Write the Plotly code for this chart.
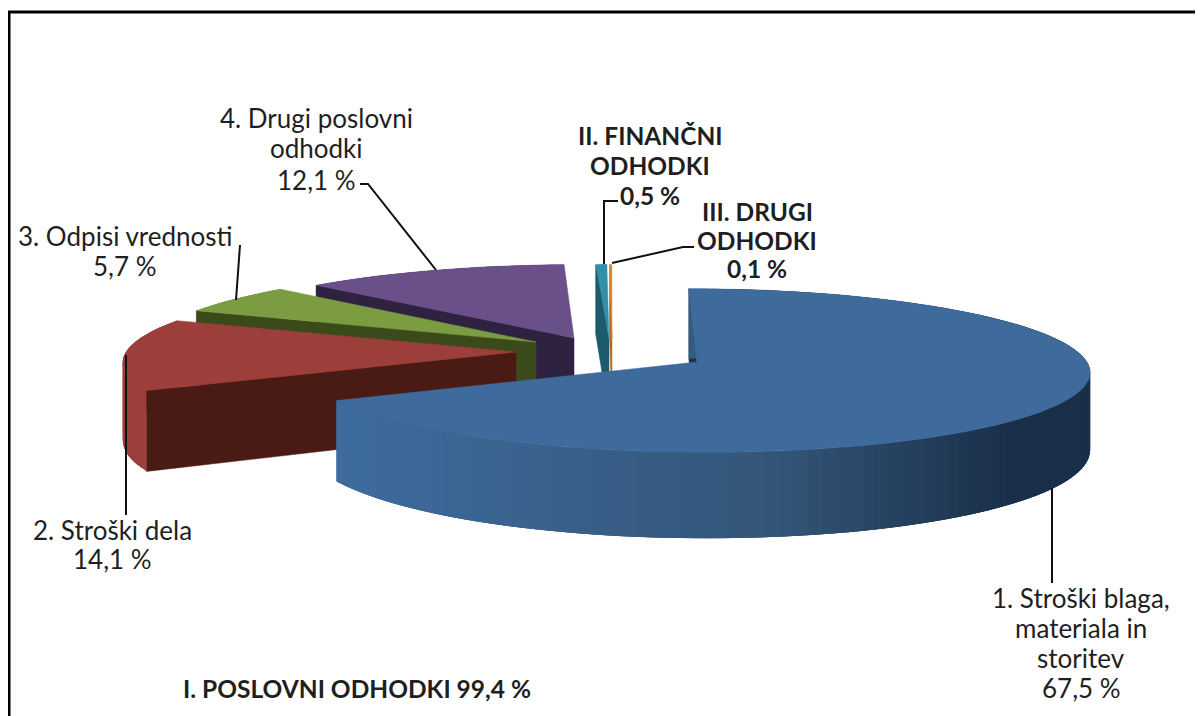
import math
import plotly.graph_objects as go

# ---- data
categories = ["1. Stroški blaga,<br>materiala in<br>storitev", "2. Stroški dela", "3. Odpisi vrednosti",
              "4. Drugi poslovni<br>odhodki", "II. FINANČNI<br>ODHODKI", "III. DRUGI<br>ODHODKI"]
shares = [67.5, 14.1, 5.7, 12.1, 0.5, 0.1]
group_label = "I. POSLOVNI ODHODKI"
group_share = 99.4

# ---- style
top_colors = ["#3E6A9C", "#9C3E3A", "#7C9C42", "#6A5088", "#338FA8", "#E08A30"]
rim_colors = ["#3E6A9C", "#9C3E3A", "#7C9C42", "#6A5088", "#1C5A6C", "#E08A30"]
cut_colors = ["#1B3350", "#4A1A15", "#3B4A1A", "#2E2240", "#1C5A6C", "#B06A20"]
HUB = (610, 330)                    # pie centre on the page
PULLS = [(87, 32), (-94, 22), (-74, 12), (-36, 8), (-1, 8), (2, 8)]   # explosion of each slice
RX, RY, DEPTH, PERSP = 390, 81, 77, 0.104
FONT = "Lato"
TEXT = "#1f1f1f"
PAGE_INSET = 8                      # the page body keeps this margin round the plot


def project(pull, u, v, z=0.0):
    w = 1 + PERSP * v
    return HUB[0] + (pull[0] + RX * u) / w, HUB[1] + pull[1] + (-RY * v + DEPTH * z) / w


def mix(c1, c2, t):
    a = [int(c1[i:i + 2], 16) for i in (1, 3, 5)]
    b = [int(c2[i:i + 2], 16) for i in (1, 3, 5)]
    return "rgb(%d,%d,%d)" % tuple(round(p + (q - p) * t) for p, q in zip(a, b))


fig = go.Figure()


def poly(pts, color, lw=0.5):
    xs = [p[0] for p in pts] + [pts[0][0]]
    ys = [p[1] for p in pts] + [pts[0][1]]
    fig.add_trace(go.Scatter(x=xs, y=ys, mode="lines", fill="toself", fillcolor=color,
                             line=dict(color=color, width=lw), hoverinfo="skip", showlegend=False))


def rim(i, pull, uv):
    n = len(uv) - 1
    for k in range(n):
        (u1, v1), (u2, v2) = uv[k], uv[min(n, k + 3)]   # strips overlap the next ones, leaving no seams
        pts = [project(pull, u1, v1), project(pull, u2, v2), project(pull, u2, v2, 1), project(pull, u1, v1, 1)]
        if i == 0:
            x = (pts[0][0] - 333) / (1091 - 333)
            col = mix("#3E6C9F", "#335577", min(1, x / 0.6)) if x < 0.6 else mix("#335577", "#1A2F4A", min(1, (x - 0.6) / 0.3))
        else:
            col = rim_colors[i]
        poly(pts, col, 0)


# slice angles, clockwise from 12 o'clock, come from the shares
edges = [0.0]
for s in shares:
    edges.append(edges[-1] + s / sum(shares) * 2 * math.pi)

for i in [5, 4, 3, 2, 1, 0]:          # back to front
    a0, a1 = edges[i], edges[i + 1]
    pull = PULLS[i]
    n = max(4, int((a1 - a0) * 30))
    angs = [a0 + (a1 - a0) * k / n for k in range(n + 1)]
    uv = [(math.sin(a), math.cos(a)) for a in angs]
    if i != 0:
        rim(i, pull, uv)
    u, v = uv[0]
    poly([project(pull, 0, 0), project(pull, u, v), project(pull, u, v, 1), project(pull, 0, 0, 1)], cut_colors[i])
    if i == 0:
        rim(i, pull, uv)
    poly([project(pull, 0, 0)] + [project(pull, u, v) for u, v in uv], top_colors[i])

# leader lines
LEADERS = [
    [(1052, 488), (1052, 583)],
    [(126, 355), (126, 515)],
    [(240, 245), (236, 300)],
    [(360, 184), (368, 184), (436, 270)],
    [(618, 201), (604, 201), (604, 264)],
    [(694, 247), (683, 247), (612, 263)],
]
for ln in LEADERS:
    fig.add_trace(go.Scatter(x=[p[0] for p in ln], y=[p[1] for p in ln], mode="lines",
                             line=dict(color="#111111", width=2), hoverinfo="skip", showlegend=False))


def pct(v):
    return f"{v:.1f}".replace(".", ",") + " %"


# label centre x and the y of each of its lines
LABEL_X = [1081, 112, 125, 316, 650, 757]
LABEL_Y = [[598, 628, 658, 688], [530, 559], [236, 266], [118, 148, 180], [135, 165, 195], [211, 240, 268]]
for i, (cat, s) in enumerate(zip(categories, shares)):
    bold = i >= 4
    lines = cat.split("<br>") + [pct(s)]
    for line, y in zip(lines, LABEL_Y[i]):
        fig.add_annotation(x=LABEL_X[i], y=y, text=f"<b>{line}</b>" if bold else line, showarrow=False,
                           xanchor="center", yanchor="middle",
                           font=dict(family=FONT, size=24.5 if bold else 26, color=TEXT))
fig.add_annotation(x=357, y=688, text=f"<b>{group_label} {pct(group_share)}</b>", showarrow=False,
                   xanchor="center", yanchor="middle", font=dict(family=FONT, size=24.5, color=TEXT))

# frame: only its left and top sides fall inside the picture
fig.add_trace(go.Scatter(x=[9, 9, 1203], y=[716, 12, 12], mode="lines",
                         line=dict(color="#000000", width=3), hoverinfo="skip", showlegend=False))

fig.update_layout(width=1203 - PAGE_INSET, height=716 - PAGE_INSET, margin=dict(l=0, r=0, t=0, b=0),
                  paper_bgcolor="white", plot_bgcolor="white", showlegend=False,
                  xaxis=dict(range=[PAGE_INSET, 1203], visible=False, fixedrange=True),
                  yaxis=dict(range=[716, PAGE_INSET], visible=False, fixedrange=True))
fig.write_html("out.html")
